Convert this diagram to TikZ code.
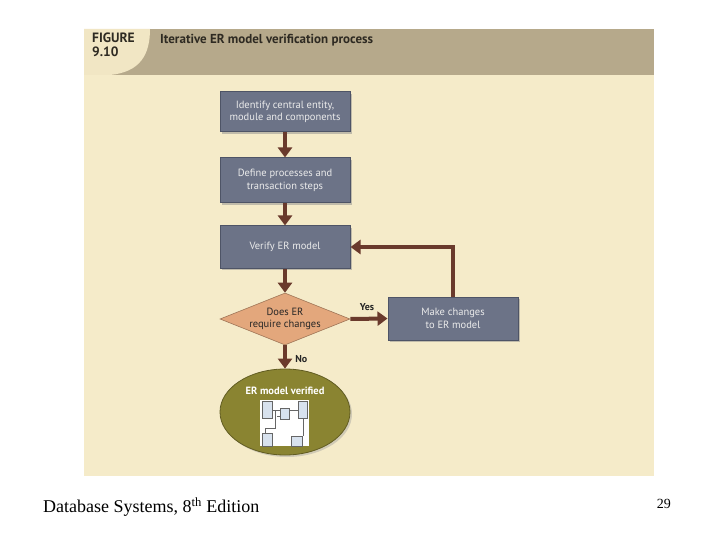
\documentclass[tikz,border=0pt]{standalone}
\usepackage{fontspec}
\setmainfont{Liberation Serif}
\newfontfamily\diagfont{PT Sans}
\usetikzlibrary{shapes.geometric,arrows.meta,shadows}
\definecolor{panel}{HTML}{F5EBC9}
\definecolor{band}{HTML}{B6A98B}
\definecolor{tab}{HTML}{F1E6C4}
\definecolor{boxfill}{HTML}{6C7387}
\definecolor{boxedge}{HTML}{4E5466}
\definecolor{diafill}{HTML}{E3A77C}
\definecolor{olive}{HTML}{8A8431}
\definecolor{arrowc}{HTML}{6A3A2C}
\definecolor{titlec}{HTML}{2E2A22}
\definecolor{iconblue}{HTML}{D8E2EE}
\tikzset{
  procbox/.style={draw=boxedge, line width=1pt, fill=boxfill, minimum width=130pt, minimum height=42pt,
    align=center, text=white!92!black, font=\diagfont\fontsize{10.5}{12.5}\selectfont,
    drop shadow={shadow xshift=2pt, shadow yshift=-2pt, fill=black!45, opacity=0.5}},
  decision/.style={diamond, aspect=2.5, draw=diafill!70!black, line width=0.6pt, fill=diafill, minimum width=130pt, minimum height=52pt, inner sep=0pt,
    align=center, text=black!85, font=\diagfont\fontsize{10.5}{12}\selectfont},
  endstate/.style={ellipse, draw=olive!70!black, line width=0.8pt, fill=olive, minimum width=130pt, minimum height=86pt,
    drop shadow={shadow xshift=2pt, shadow yshift=-2pt, fill=black!40, opacity=0.4}},
  flow/.style={draw=arrowc, line width=4pt, -{Triangle[length=10pt,width=14pt]}},
  lbl/.style={font=\diagfont\bfseries\fontsize{10}{12}\selectfont, text=black!85}
}
\begin{document}
\begin{tikzpicture}[x=1pt,y=-1pt]
\useasboundingbox (0,0) rectangle (720,540);
\fill[white] (0,0) rectangle (720,540);
% panel
\fill[panel] (84,29) rectangle (654,476);
\fill[band] (84,29) rectangle (654,75);
\fill[tab] (84,29) -- (150,29) .. controls (150,55) and (140,72) .. (110,75) -- (84,75) -- cycle;
\node[anchor=north west, align=left, font=\diagfont\bfseries\fontsize{13.5}{14}\selectfont, text=titlec, inner sep=0pt] (fig) at (92,33) {FIGURE\\9.10};
\node[anchor=west, font=\diagfont\bfseries\fontsize{13}{15}\selectfont, text=titlec, inner sep=0pt] (title) at (160,40) {Iterative ER model verification process};
% nodes
\node[procbox, minimum height=40pt] (b1) at (285,112) {Identify central entity,\\module and components};
\node[procbox, minimum height=45pt] (b2) at (285,180.5) {Define processes and\\transaction steps};
\node[procbox] (b3) at (285,247) {Verify ER model};
\node[decision] (d) at (285,319) {Does ER\\require changes};
\node[procbox, minimum height=43pt] (b4) at (453,318.5) {Make changes\\to ER model};
\node[endstate] (e) at (285,412) {};
\node[font=\diagfont\bfseries\fontsize{10.5}{12}\selectfont, text=white] (etxt) at (285,391) {ER model verified};
% icon
\fill[white] (260,400) rectangle (309,446);
\begin{scope}[draw=black!60, line width=0.4pt]
\draw[fill=iconblue] (262,401) rectangle (272,418);
\draw[fill=iconblue] (298,401) rectangle (307,418);
\draw[fill=iconblue] (280,408) rectangle (289,419);
\draw[fill=iconblue] (262,433) rectangle (272,446);
\draw[fill=iconblue] (291,436) rectangle (302,446);
\draw[line width=0.7pt] (272,410) -- (280,410);
\draw[line width=0.7pt] (289,410) -- (298,410);
\draw (275,410) -- (275,428) -- (265,428) -- (265,433);
\draw (280,416) -- (277,416);
\draw (303,418) -- (303,436);
\end{scope}
% connectors
\draw[flow] (b1.south) -- (b2.north);
\draw[flow] (b2.south) -- (b3.north);
\draw[flow] (b3.south) -- (d.north);
\draw[flow] (d.east) -- node[lbl, above, pos=0.45, yshift=3pt] (yes) {Yes} (b4.west);
\draw[flow] (b4.north) |- (b3.east);
\draw[flow] (d.south) -- node[lbl, right, xshift=5pt, pos=0.6] (no) {No} (e.north);
% footer
\node[anchor=west, font=\fontsize{18}{20}\selectfont, inner sep=0pt] (foot) at (43,507) {Database Systems, 8\textsuperscript{th} Edition};
\node[anchor=east, font=\fontsize{14}{16}\selectfont, inner sep=0pt] (page) at (671,504) {29};
\end{tikzpicture}
\end{document}
